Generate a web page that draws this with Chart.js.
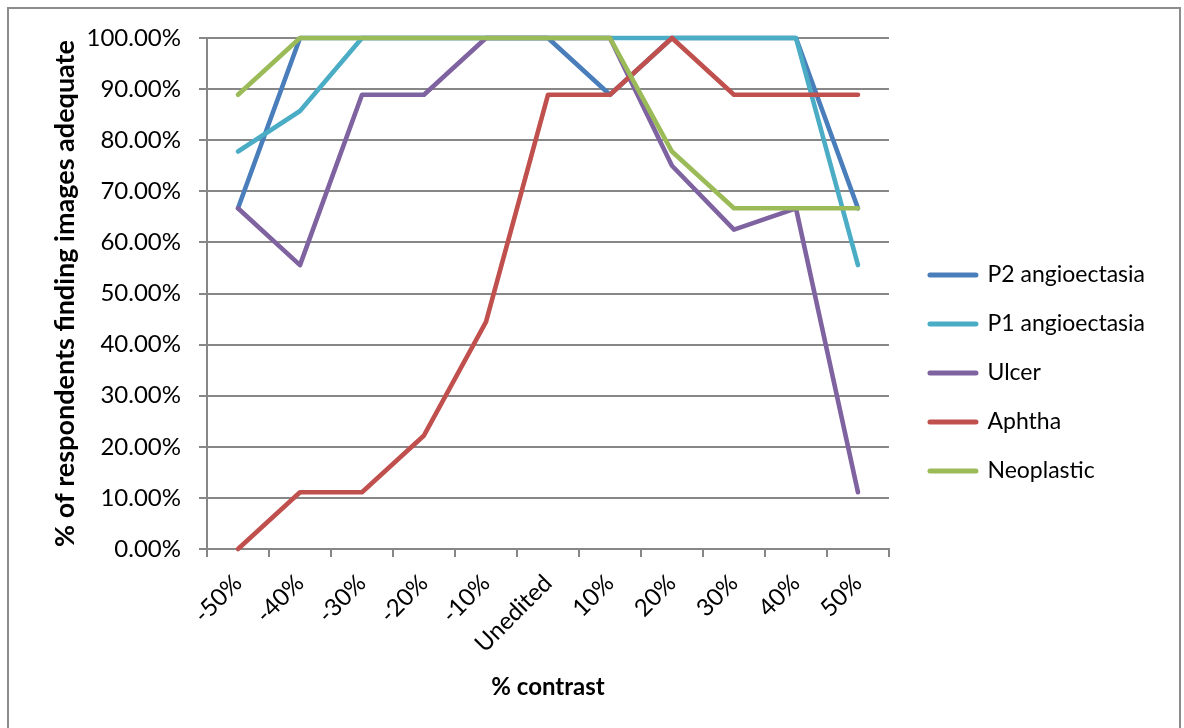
<!DOCTYPE html>
<html>
<head>
<meta charset="utf-8">
<script src="https://cdn.jsdelivr.net/npm/chart.js@4/dist/chart.umd.min.js"></script>
<style>
  html, body { margin: 0; padding: 0; background: #ffffff; }
  #wrap { position: relative; width: 1184px; height: 728px; overflow: hidden; }
  #frame { position: absolute; left: 7px; top: 7px; width: 1174px; height: 740px;
           border: 2px solid #8c8c8c; box-sizing: border-box; }
  #chart { position: absolute; left: 0; top: 0; }
</style>
</head>
<body>
<div id="wrap">
  <div id="frame"></div>
  <canvas id="chart" width="1184" height="728"></canvas>
</div>
<script>
// Contrast levels tested
const categories = ['-50%', '-40%', '-30%', '-20%', '-10%', 'Unedited', '10%', '20%', '30%', '40%', '50%'];

// Share of respondents (%) rating the images adequate
const p2Angioectasia = [66.67, 100, 100, 100, 100, 100, 88.89, 100, 100, 100, 66.67];
const p1Angioectasia = [77.78, 85.71, 100, 100, 100, 100, 100, 100, 100, 100, 55.56];
const ulcer          = [66.67, 55.56, 88.89, 88.89, 100, 100, 100, 75, 62.5, 66.67, 11.11];
const aphtha         = [0, 11.11, 11.11, 22.22, 44.44, 88.89, 88.89, 100, 88.89, 88.89, 88.89];
const neoplastic     = [88.89, 100, 100, 100, 100, 100, 100, 77.78, 66.67, 66.67, 66.67];

const seriesNames  = ['P2 angioectasia', 'P1 angioectasia', 'Ulcer', 'Aphtha', 'Neoplastic'];
const seriesValues = [p2Angioectasia, p1Angioectasia, ulcer, aphtha, neoplastic];
const seriesColors = ['#4A7EBB', '#4BACC6', '#7F63A1', '#C0504D', '#9BBB59'];

const FONT = 'Lato, "Liberation Sans", sans-serif';
const GRID = '#878787';

function build() {
  const datasets = seriesNames.map((name, i) => ({
    label: name,
    data: seriesValues[i],
    borderColor: seriesColors[i],
    backgroundColor: seriesColors[i],
    borderWidth: 4.6,
    borderJoinStyle: 'round',
    borderCapStyle: 'round',
    pointRadius: 0,
    pointHoverRadius: 0,
    tension: 0,
    clip: false,
    // later series are painted over earlier ones
    order: seriesNames.length - 1 - i
  }));

  new Chart(document.getElementById('chart'), {
    type: 'line',
    data: { labels: categories, datasets },
    options: {
      responsive: false,
      animation: false,
      layout: { padding: { left: 36, top: 38, right: 29, bottom: 20 } },
      plugins: {
        tooltip: { enabled: false },
        legend: {
          position: 'right',
          align: 'center',
          labels: {
            color: '#000',
            font: { family: FONT, size: 23 },
            usePointStyle: true,
            pointStyleWidth: 46,
            padding: 26,
            generateLabels: (chart) => chart.data.datasets.map((ds, i) => ({
              text: ds.label,
              strokeStyle: ds.borderColor,
              fillStyle: ds.borderColor,
              lineWidth: 5,
              lineCap: 'round',
              pointStyle: 'line',
              datasetIndex: i,
              hidden: !chart.isDatasetVisible(i)
            }))
          }
        }
      },
      scales: {
        x: {
          offset: true,
          grid: { display: true, drawOnChartArea: false, drawTicks: true, tickLength: 8,
                  offset: true, color: GRID, lineWidth: 2 },
          border: { display: true, color: GRID, width: 2 },
          ticks: { color: '#000', font: { family: FONT, size: 24 }, minRotation: 45, maxRotation: 45,
                   padding: 12, autoSkip: false },
          title: { display: true, text: '% contrast', color: '#000',
                   font: { family: FONT, size: 24, weight: 'bold' }, padding: { top: 4, bottom: 6 } },
          afterFit: (scale) => { scale.height = 159; }
        },
        y: {
          min: 0,
          max: 100,
          grid: { color: GRID, lineWidth: 2, tickLength: 8, drawTicks: true },
          border: { display: true, color: GRID, width: 2 },
          ticks: { stepSize: 10, color: '#000', font: { family: FONT, size: 24 }, padding: 18,
                   callback: (v) => v.toFixed(2) + '%' },
          title: { display: true, text: '% of respondents finding images adequate', color: '#000',
                   font: { family: FONT, size: 27, weight: 'bold' }, padding: { top: 13, bottom: 0 } },
          afterFit: (scale) => { scale.width = 207 - 36; }
        },
        // hidden spacer keeping the legend clear of the plot
        gap: {
          type: 'linear',
          position: 'right',
          display: false,
          afterFit: (scale) => { scale.width = 15; }
        }
      }
    }
  });
}

Promise.all([
  document.fonts.load('23px Lato'),
  document.fonts.load('bold 24px Lato')
]).catch(() => {}).then(build);
</script>
</body>
</html>
